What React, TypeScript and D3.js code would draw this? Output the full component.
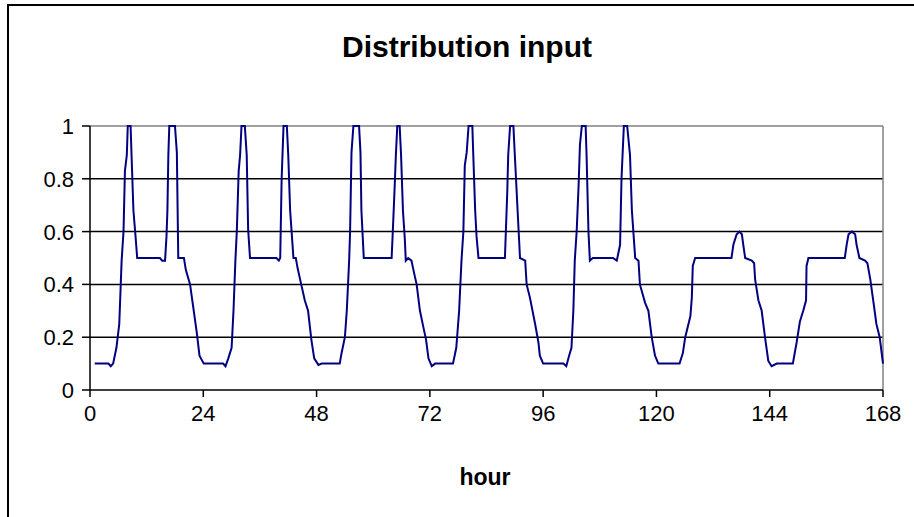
import React from "react";
import * as d3 from "d3";

const title = "Distribution input";
const xLabel = "hour";
const xTicks = [0, 24, 48, 72, 96, 120, 144, 168];
const yTicks = [0, 0.2, 0.4, 0.6, 0.8, 1];

// [hour, value] points, one list per day
const day1: [number, number][] = [[1.0,0.1],[3.9,0.1],[4.4,0.09],[4.9,0.1],[5.6,0.16],[6.2,0.25],[6.7,0.49],[7.1,0.6],[7.4,0.83],[7.8,0.89],[8.0,1.0],[8.6,1.0],[8.8,0.89],[9.2,0.68],[9.7,0.57],[10.0,0.5],[14.8,0.5],[15.3,0.49],[15.9,0.49],[16.2,0.58],[16.4,0.68],[16.6,0.89],[16.8,1.0],[18.0,1.0],[18.4,0.9],[18.7,0.5],[19.9,0.5],[20.3,0.455],[21.2,0.4],[21.9,0.31],[22.6,0.22],[23.2,0.13],[24.1,0.1]];
const day2: [number, number][] = [[28.2,0.1],[28.7,0.09],[29.3,0.12],[30.0,0.16],[30.4,0.3],[30.8,0.49],[31.1,0.6],[31.5,0.83],[31.8,0.89],[32.1,1.0],[32.8,1.0],[33.2,0.89],[33.5,0.61],[33.9,0.5],[39.5,0.5],[40.0,0.49],[40.3,0.5],[40.6,0.8],[41.0,1.0],[41.7,1.0],[42.0,0.89],[42.4,0.68],[43.1,0.5],[43.6,0.5],[44.0,0.46],[44.5,0.42],[45.5,0.34],[46.2,0.3],[46.9,0.19],[47.5,0.12],[48.4,0.095],[49.1,0.1]];
const day3: [number, number][] = [[52.9,0.1],[53.3,0.14],[54.0,0.2],[54.4,0.3],[54.9,0.49],[55.1,0.6],[55.3,0.8],[55.4,0.9],[55.8,1.0],[57.0,1.0],[57.3,0.9],[57.5,0.68],[58.0,0.5],[63.9,0.5],[64.1,0.58],[64.5,0.75],[64.8,0.89],[65.1,1.0],[65.6,1.0],[65.9,0.89],[66.3,0.68],[66.7,0.57],[66.9,0.49],[67.4,0.5],[68.1,0.49],[68.7,0.44],[69.2,0.4],[69.9,0.3],[70.6,0.24],[71.2,0.19],[71.7,0.12],[72.4,0.09],[73.1,0.1]];
const day4: [number, number][] = [[76.9,0.1],[77.6,0.16],[78.2,0.3],[78.7,0.49],[79.1,0.6],[79.4,0.85],[79.8,0.9],[80.2,1.0],[81.0,1.0],[81.2,0.89],[81.6,0.68],[81.9,0.58],[82.3,0.5],[87.9,0.5],[88.1,0.6],[88.4,0.75],[88.6,0.89],[89.0,1.0],[89.7,1.0],[90.0,0.89],[90.7,0.64],[91.1,0.5],[92.2,0.49],[92.5,0.4],[93.2,0.35],[94.3,0.25],[95.0,0.18],[95.3,0.13],[96.0,0.1]];
const day5: [number, number][] = [[100.3,0.1],[100.9,0.09],[101.5,0.13],[102.0,0.16],[102.4,0.3],[102.7,0.49],[103.1,0.6],[103.5,0.77],[103.8,0.93],[104.2,1.0],[105.0,1.0],[105.2,0.89],[105.6,0.6],[105.9,0.49],[106.5,0.5],[110.8,0.5],[111.6,0.49],[112.3,0.55],[112.6,0.8],[113.1,1.0],[113.8,1.0],[114.4,0.89],[114.8,0.68],[115.5,0.5],[116.2,0.49],[116.5,0.4],[117.6,0.33],[118.3,0.3],[119.0,0.2],[119.7,0.13],[120.4,0.1]];
const day6: [number, number][] = [[124.9,0.1],[125.6,0.14],[126.1,0.2],[127.2,0.28],[127.5,0.35],[127.7,0.47],[128.2,0.5],[135.9,0.5],[136.3,0.55],[137.0,0.59],[137.6,0.6],[138.1,0.59],[138.4,0.55],[138.8,0.5],[140.2,0.49],[140.7,0.48],[140.9,0.42],[141.6,0.34],[142.3,0.3],[143.0,0.2],[143.7,0.11],[144.4,0.09],[145.5,0.1]];
const day7: [number, number][] = [[148.9,0.1],[149.7,0.18],[150.4,0.26],[151.1,0.3],[151.7,0.34],[151.8,0.47],[152.2,0.5],[159.9,0.5],[160.3,0.55],[160.7,0.59],[161.4,0.6],[162.1,0.59],[162.4,0.55],[163.0,0.5],[164.2,0.49],[164.7,0.48],[165.3,0.42],[166.0,0.33],[166.6,0.25],[167.3,0.2],[168.0,0.1]];

const series = [...day1, ...day2, ...day3, ...day4, ...day5, ...day6, ...day7];

const W = 914;
const H = 517;
const left = 90, right = 883, top = 126, bottom = 390;
const font = "'Liberation Sans', Arial, sans-serif";

export default function App() {
  const x = d3.scaleLinear().domain([0, 168]).range([left, right]);
  const y = d3.scaleLinear().domain([0, 1]).range([bottom, top]);
  const line = d3.line<[number, number]>().x(d => x(d[0])).y(d => y(d[1]));
  return (
    <svg width={W} height={H} style={{ position: "absolute", left: 0, top: 0, background: "#fff" }}>
      <rect x={8} y={5} width={W + 20} height={H + 20} fill="#fff" stroke="#000" strokeWidth={2} />
      <text x={467} y={57} textAnchor="middle" fontFamily={font} fontWeight="bold" fontSize={30}>{title}</text>
      {yTicks.filter(t => t > 0 && t < 1).map(t => (
        <line key={"g" + t} x1={left} x2={right} y1={y(t)} y2={y(t)} stroke="#000" strokeWidth={1.5} />
      ))}
      <line x1={left} x2={right} y1={top} y2={top} stroke="#808080" strokeWidth={1.5} />
      <line x1={right} x2={right} y1={top} y2={bottom} stroke="#808080" strokeWidth={1.5} />
      <path d={line(series) || ""} fill="none" stroke="#000080" strokeWidth={2} />
      <line x1={left} x2={left} y1={top} y2={bottom} stroke="#000" strokeWidth={1.5} />
      <line x1={left} x2={right} y1={bottom} y2={bottom} stroke="#000" strokeWidth={1.5} />
      {yTicks.map(t => (
        <g key={"y" + t}>
          <line x1={left - 8} x2={left} y1={y(t)} y2={y(t)} stroke="#000" strokeWidth={1.5} />
          <text x={left - 16} y={y(t) + 8} textAnchor="end" fontFamily={font} fontSize={22}>{t}</text>
        </g>
      ))}
      {xTicks.map(t => (
        <g key={"x" + t}>
          <line x1={x(t)} x2={x(t)} y1={bottom} y2={bottom + 7} stroke="#000" strokeWidth={1.5} />
          <text x={x(t)} y={bottom + 31} textAnchor="middle" fontFamily={font} fontSize={22}>{t}</text>
        </g>
      ))}
      <text x={485} y={485} textAnchor="middle" fontFamily={font} fontWeight="bold" fontSize={23}>{xLabel}</text>
    </svg>
  );
}
